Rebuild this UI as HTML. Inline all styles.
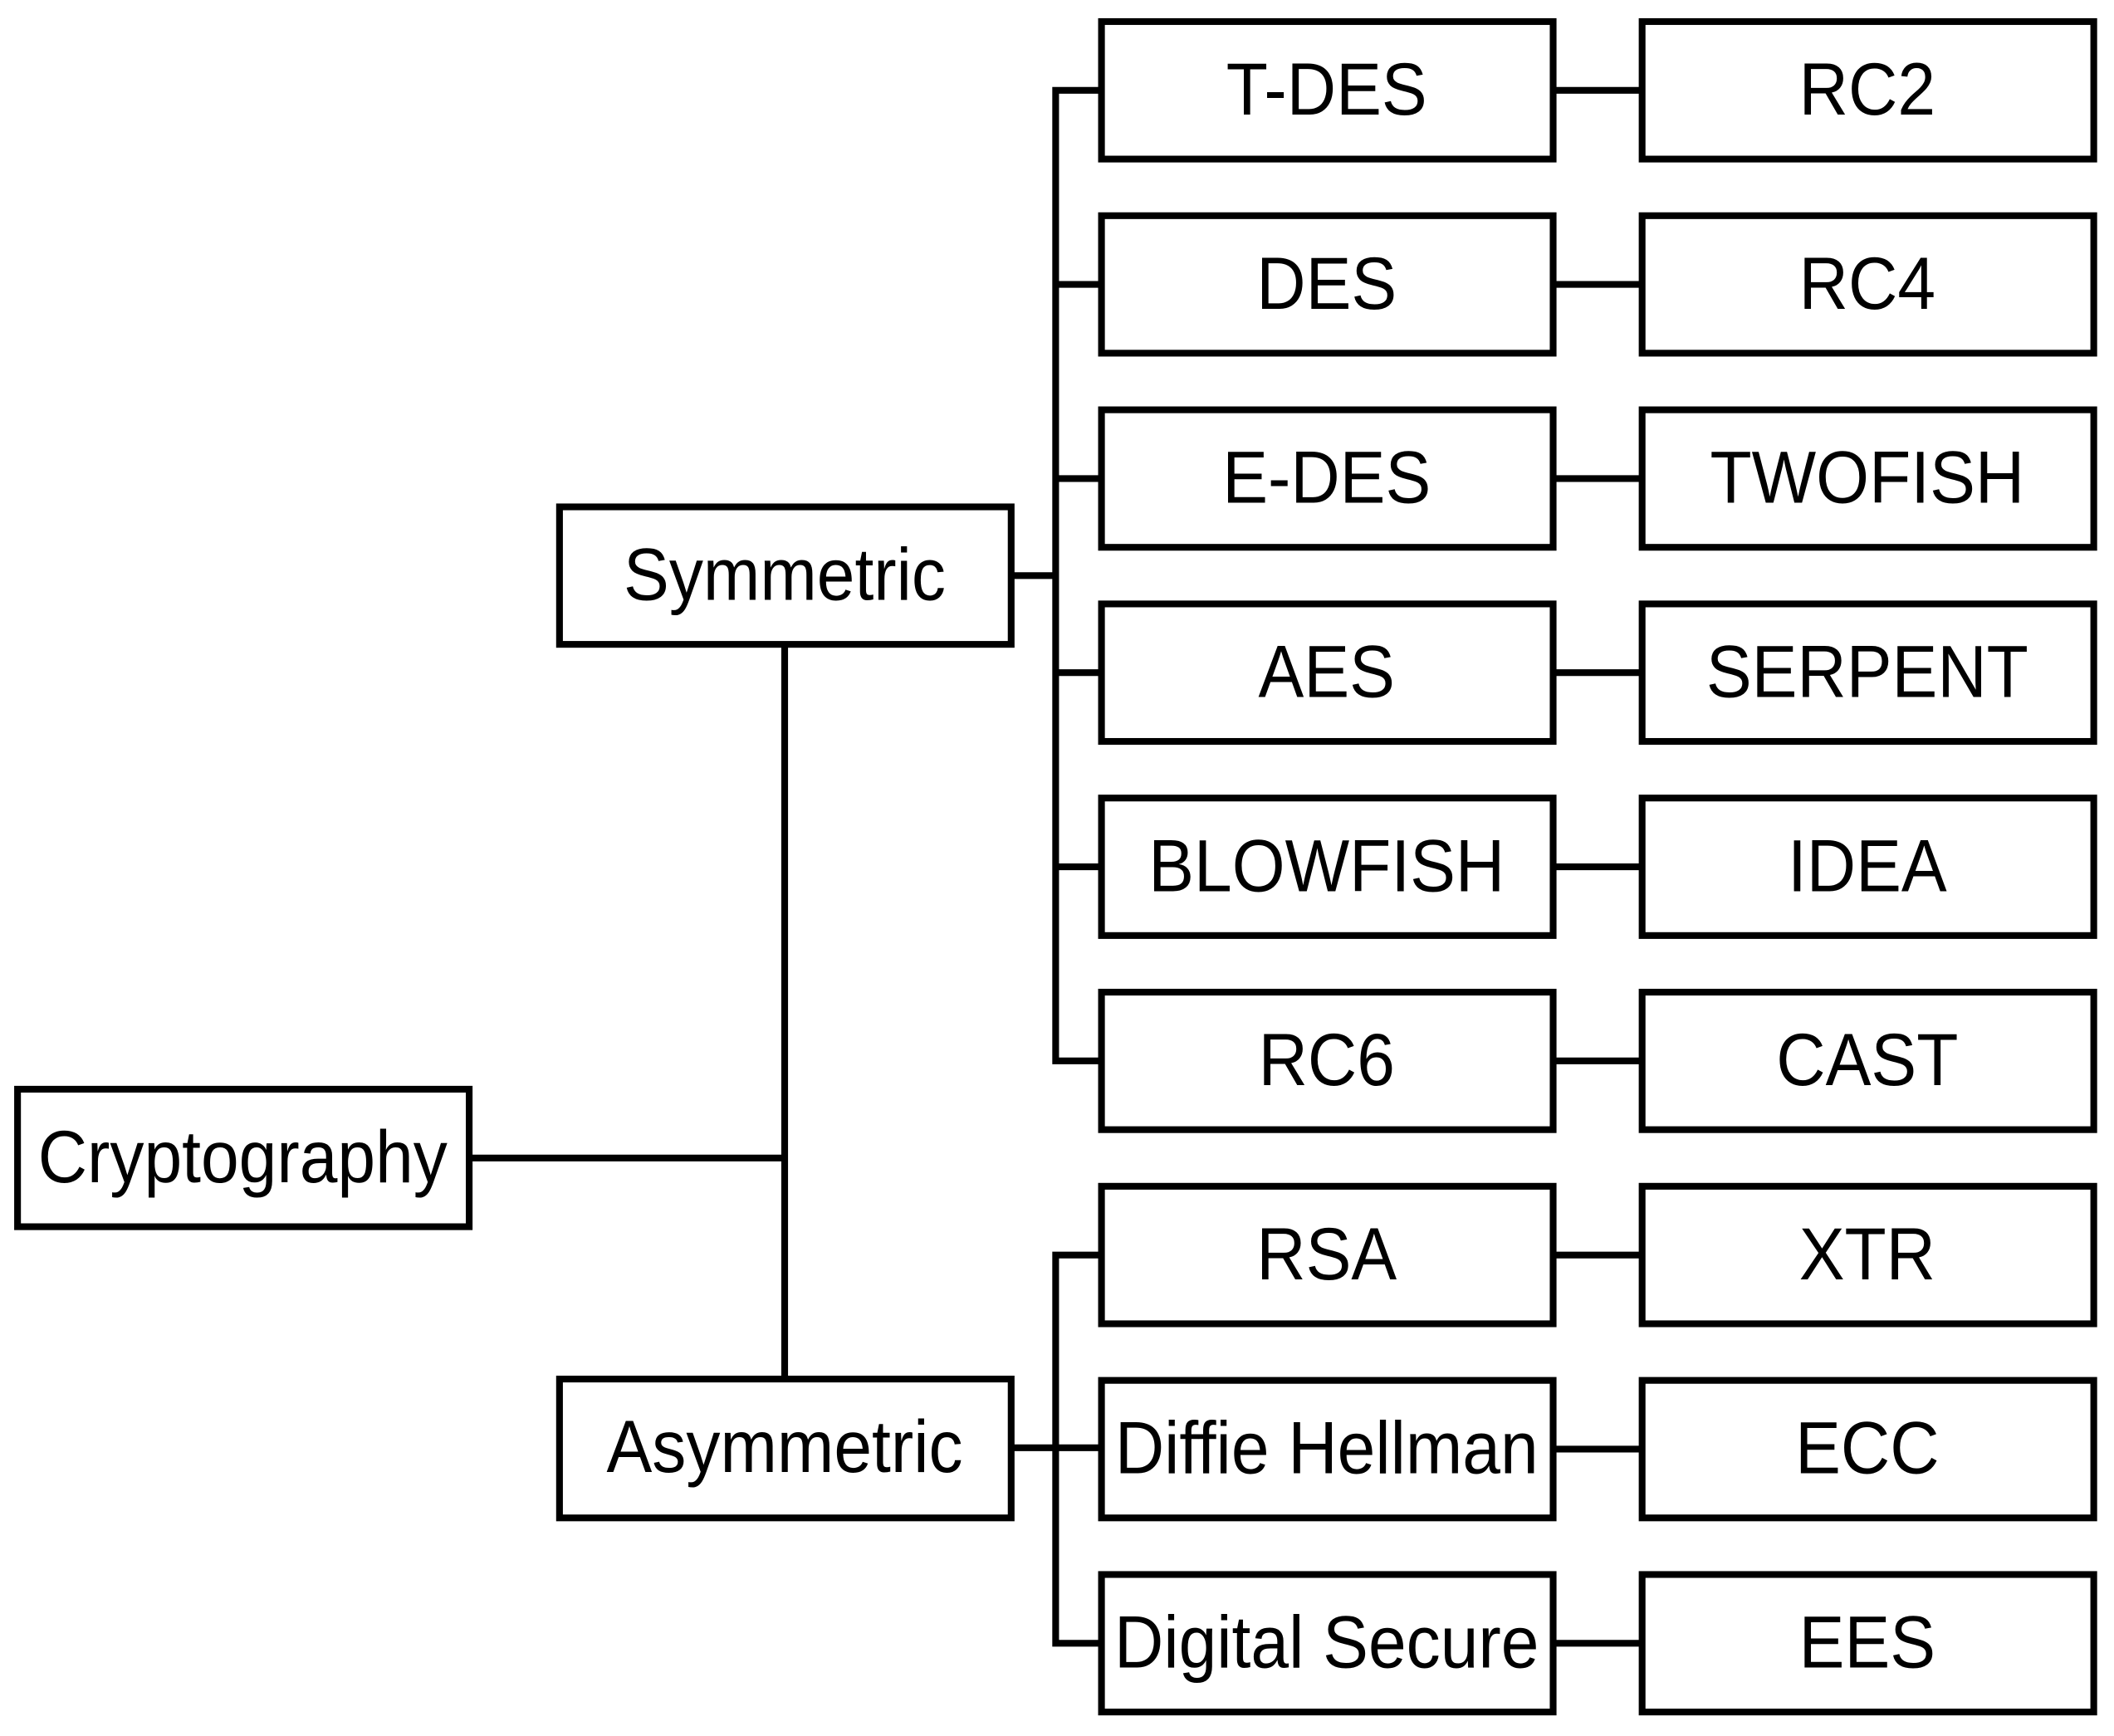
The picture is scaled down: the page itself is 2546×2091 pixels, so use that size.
<!DOCTYPE html>
<html><head><meta charset="utf-8"><style>html,body{margin:0;padding:0;background:#fff}svg{display:block}</style></head>
<body>
<svg width="2546" height="2091" viewBox="0 0 1568 1287.8" xmlns="http://www.w3.org/2000/svg">
<g fill="#fff" stroke="#000" stroke-width="5">
<rect x="13" y="808" width="335" height="102"/>
<rect x="415" y="376" width="335" height="102"/>
<rect x="415" y="1023" width="335" height="103"/>
<rect x="817" y="16" width="335" height="102"/><rect x="1218" y="16" width="335" height="102"/>
<rect x="817" y="160" width="335" height="102"/><rect x="1218" y="160" width="335" height="102"/>
<rect x="817" y="304" width="335" height="102"/><rect x="1218" y="304" width="335" height="102"/>
<rect x="817" y="448" width="335" height="102"/><rect x="1218" y="448" width="335" height="102"/>
<rect x="817" y="592" width="335" height="102"/><rect x="1218" y="592" width="335" height="102"/>
<rect x="817" y="736" width="335" height="102"/><rect x="1218" y="736" width="335" height="102"/>
<rect x="817" y="880" width="335" height="102"/><rect x="1218" y="880" width="335" height="102"/>
<rect x="817" y="1024" width="335" height="102"/><rect x="1218" y="1024" width="335" height="102"/>
<rect x="817" y="1168" width="335" height="102"/><rect x="1218" y="1168" width="335" height="102"/>
</g>
<g fill="none" stroke="#000" stroke-width="5" stroke-linejoin="miter">
<path d="M348 859H582M582 478V1023"/>
<path d="M750 427H783"/>
<path d="M817 67H783V787H817"/>
<path d="M783 211H817M783 355H817M783 499H817M783 643H817"/>
<path d="M750 1074H817"/>
<path d="M817 931H783V1219H817"/>
<path d="M1152 67H1218M1152 211H1218M1152 355H1218M1152 499H1218M1152 643H1218M1152 787H1218M1152 931H1218M1152 1075H1218M1152 1219H1218"/>
</g>
<g font-family="Liberation Sans, sans-serif" font-size="55" text-anchor="middle" fill="#000">
<text transform="translate(180,877) scale(0.92,1)">Cryptography</text>
<text transform="translate(582,445) scale(0.92,1)">Symmetric</text>
<text transform="translate(582,1092) scale(0.92,1)">Asymmetric</text>
<text transform="translate(984,85) scale(0.92,1)">T-DES</text>
<text transform="translate(984,229) scale(0.92,1)">DES</text>
<text transform="translate(984,373) scale(0.92,1)">E-DES</text>
<text transform="translate(984,517) scale(0.92,1)">AES</text>
<text transform="translate(984,661) scale(0.92,1)">BLOWFISH</text>
<text transform="translate(984,805) scale(0.92,1)">RC6</text>
<text transform="translate(984,949) scale(0.92,1)">RSA</text>
<text transform="translate(984,1093) scale(0.92,1)">Diffie Hellman</text>
<text transform="translate(984,1237) scale(0.92,1)">Digital Secure</text>
<text transform="translate(1385,85) scale(0.92,1)">RC2</text>
<text transform="translate(1385,229) scale(0.92,1)">RC4</text>
<text transform="translate(1385,373) scale(0.92,1)">TWOFISH</text>
<text transform="translate(1385,517) scale(0.92,1)">SERPENT</text>
<text transform="translate(1385,661) scale(0.92,1)">IDEA</text>
<text transform="translate(1385,805) scale(0.92,1)">CAST</text>
<text transform="translate(1385,949) scale(0.92,1)">XTR</text>
<text transform="translate(1385,1093) scale(0.92,1)">ECC</text>
<text transform="translate(1385,1237) scale(0.92,1)">EES</text>
</g>
</svg>
</body></html>
